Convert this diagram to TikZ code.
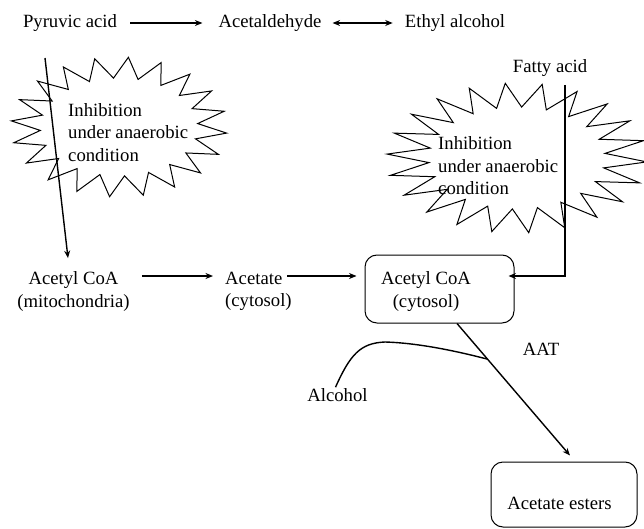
\documentclass[tikz,border=0pt]{standalone}
\usepackage{fontspec}
\setmainfont{Liberation Serif}
\usetikzlibrary{arrows.meta,calc}
\begin{document}
\begin{tikzpicture}[x=1pt,y=-1pt,
  txt/.style={font=\fontsize{18.7}{22.5}\selectfont, inner sep=0pt, align=center},
  arr/.style={line width=1.4pt, -{Stealth[length=7.5pt,width=6pt]}},
  arrboth/.style={line width=1.4pt, {Stealth[length=7.5pt,width=6pt]}-{Stealth[length=7.5pt,width=6pt]}},
  ln/.style={line width=1.4pt},
  rbox/.style={draw, line width=1pt, rounded corners=12pt, inner sep=0pt},
  burst/.style={line width=1pt, line join=miter}]
\clip (0,0) rectangle (644,529);

% top row
\node[txt] (pyr) at (70,23) {Pyruvic acid};
\node[txt] (ald) at (270,23) {Acetaldehyde};
\node[txt] (eth) at (455,23) {Ethyl alcohol};
\draw[arr] ([xshift=13pt]pyr.east) -- ([xshift=-16pt]ald.west);
\draw[arrboth] ([xshift=11pt]ald.east) -- ([xshift=-12pt]eth.west);

% starbursts
\draw[burst] plot[samples at={0,...,39}, variable=\i]
  ({119+108*(1-0.27*mod(\i,2))*cos(\i*9+5)}, {127+70*(1-0.30*mod(\i,2))*sin(\i*9+5)}) -- cycle;
\draw[burst] plot[samples at={0,...,43}, variable=\i]
  ({517+130*(1-0.32*mod(\i,2))*cos(\i*8.1818+3)}, {158+75*(1-0.32*mod(\i,2))*sin(\i*8.1818+3)}) -- cycle;
\node[txt, align=left, anchor=west] (inh1) at (68,132.5) {Inhibition\\under anaerobic\\condition};
\node[txt, align=left, anchor=west] (inh2) at (438,166) {Inhibition\\under anaerobic\\condition};

% middle row
\node[txt] (acm) at (73.5,291.5) {Acetyl CoA\\(mitochondria)};
\node[txt, align=left, anchor=west] (act) at (225,291.5) {Acetate\\(cytosol)};
\node[rbox, minimum width=149pt, minimum height=68pt] (box1) at (439.5,289) {};
\node[txt] (acc) at (426,291.5) {Acetyl CoA\\(cytosol)};
\node[txt] (fa) at (550,68) {Fatty acid};

\coordinate (s1) at (45,58);
\draw[arr] (s1) -- ($(acm.north)+(-5.5,-13.5)$);
\draw[arr] ($(acm.east)+(12,-15.5)$) -- ($(act.west)+(-12,-15.5)$);
\draw[arr] ($(act.west)+(62,-15.5)$) -- ($(box1.west)+(-8,-13)$);
\coordinate (fa1) at (565,85);
\draw[arr] (fa1) |- ($(box1.east)+(-6,-13)$);

% bottom
\node[txt] (aat) at (541,349) {AAT};
\node[rbox, minimum width=146pt, minimum height=65pt] (box2) at (564,494.5) {};
\node[txt] (ae) at (559.5,503) {Acetate esters};
\node[txt] (alc) at (337.5,395) {Alcohol};
\coordinate (p1) at ($(box1.south)+(17.5,0)$);
\coordinate (p2) at ($(box2.north)+(6,-6)$);
\draw[arr] (p1) -- (p2);
\coordinate (j) at ($(p1)!0.27!(p2)$);
\draw[ln] ($(alc.north)+(-2,-1)$) .. controls (350,355) and (360,343) .. (385,342)
  .. controls (420,343) and (460,352) .. (j);
\end{tikzpicture}
\end{document}
